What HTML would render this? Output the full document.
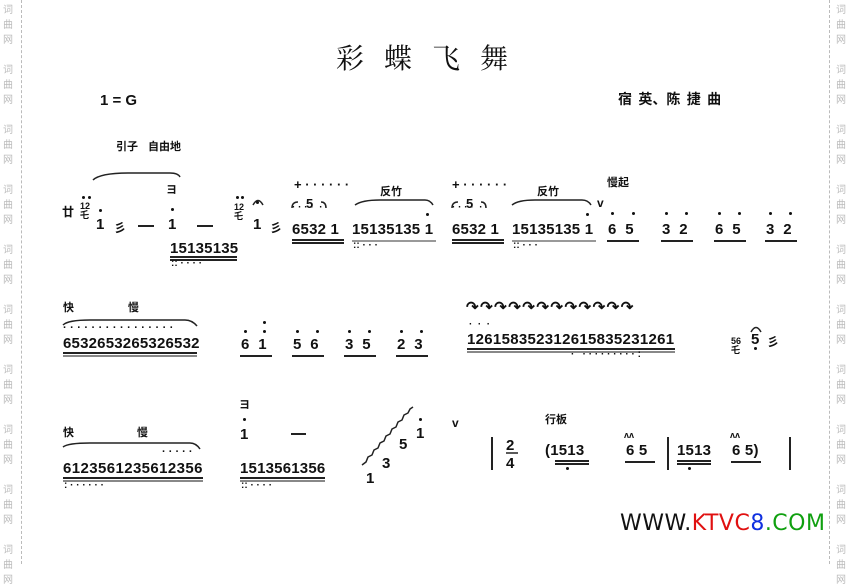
<!DOCTYPE html>
<html><head><meta charset="utf-8"><style>
body{margin:0;width:850px;height:564px;background:#fff;position:relative;overflow:hidden;font-family:"Liberation Sans","Noto Sans CJK SC",sans-serif;color:#111}
.a{position:absolute;white-space:pre;line-height:1}
.n{position:absolute;white-space:pre;line-height:1;font:bold 15px "Liberation Sans",sans-serif;letter-spacing:0.2px}
.c{position:absolute;white-space:pre;line-height:1;font-weight:bold;font-size:11px;font-family:"Noto Sans CJK SC",sans-serif}
.d{position:absolute;width:3px;height:3px;border-radius:50%;background:#111}
.u{position:absolute;height:1.5px;background:#222}
.w{position:absolute;font-size:10px;color:#bbb;line-height:15px;width:12px;font-family:"Noto Sans CJK SC",sans-serif}
.vl{position:absolute;top:0;height:564px;border-left:1px dashed #bbb}
</style></head><body>
<div class="vl" style="left:21px"></div><div class="vl" style="left:829px"></div>
<div class="w" style="left:3px;top:1px">词<br>曲<br>网<br><br>词<br>曲<br>网<br><br>词<br>曲<br>网<br><br>词<br>曲<br>网<br><br>词<br>曲<br>网<br><br>词<br>曲<br>网<br><br>词<br>曲<br>网<br><br>词<br>曲<br>网<br><br>词<br>曲<br>网<br><br>词<br>曲<br>网</div>
<div class="w" style="left:836px;top:1px">词<br>曲<br>网<br><br>词<br>曲<br>网<br><br>词<br>曲<br>网<br><br>词<br>曲<br>网<br><br>词<br>曲<br>网<br><br>词<br>曲<br>网<br><br>词<br>曲<br>网<br><br>词<br>曲<br>网<br><br>词<br>曲<br>网<br><br>词<br>曲<br>网</div>

<div class="a" style="left:336px;top:43px;font-size:28px;letter-spacing:20px;font-family:'Noto Serif CJK SC',serif">彩蝶飞舞</div>
<div class="a" style="left:100px;top:93px;font-size:15px;font-weight:bold">1 = G</div>
<div class="a" style="left:618px;top:92px;font-size:14px;font-weight:bold;font-family:'Noto Sans CJK SC',sans-serif">宿  英、陈  捷  曲</div>
<div class="c" style="left:116px;top:141px">引子    自由地</div>

<svg style="position:absolute;left:0;top:0" width="850" height="564" fill="none" stroke="#222" stroke-width="1.5">
<path d="M93 180 Q100 173 130 173 L170 173 Q178 173 180 177"/>
<path d="M355 205 Q362 200 380 200 L425 200 Q430 200 433 205"/>
<path d="M512 205 Q518 200 535 200 L582 200 Q588 200 591 205"/>
<path d="M292 208 Q292 202 298 202 M321 202 Q326 202 326 208"/>
<path d="M452 208 Q452 202 458 202 M481 202 Q486 202 486 208"/>
<path d="M63 325 Q68 320 90 320 L185 320 Q192 320 197 326"/>
<path d="M63 447 Q68 443 90 443 L190 443 Q196 443 200 449"/>
<path d="M362 465 l4 -3 l2 -5 l4 -2 l2 -5 l4 -2 l2 -5 l4 -2 l2 -5 l4 -2 l2 -5 l4 -2 l2 -5 l4 -2 l2 -5 l4 -2 l2 -4 l3 -2"/>
<path d="M253 205 Q258 196 263 205"/><path d="M751 332 Q756 323 761 332"/>
<path d="M492 437 L492 470 M668 437 L668 470 M790 437 L790 470" stroke-width="2"/>
<path d="M506 453 L518 453" stroke-width="1.5"/>
</svg>
<div class="a" style="left:62px;top:206px;font-size:12px;font-weight:bold">廿</div>
<div class="a" style="left:80px;top:202px;font-size:9px;font-weight:bold">12<br>乇</div>
<div class="d" style="left:82px;top:196px"></div><div class="d" style="left:88px;top:196px"></div>
<div class="d" style="left:99px;top:209px"></div><div class="n" style="left:96px;top:216px">1</div>
<div class="a" style="left:114px;top:222px;font-size:12px;font-weight:bold">彡</div>
<div class="u" style="left:138px;top:225px;width:16px;height:2px"></div>
<div class="a" style="left:166px;top:185px;font-size:11px;font-weight:bold">ヨ</div>
<div class="d" style="left:171px;top:208px"></div><div class="n" style="left:168px;top:216px">1</div>
<div class="u" style="left:197px;top:225px;width:16px;height:2px"></div>
<div class="a" style="left:234px;top:203px;font-size:9px;font-weight:bold">12<br>乇</div>
<div class="d" style="left:236px;top:196px"></div><div class="d" style="left:241px;top:196px"></div><div class="d" style="left:256px;top:201px"></div>
<div class="n" style="left:253px;top:216px">1</div>
<div class="a" style="left:270px;top:222px;font-size:12px;font-weight:bold">彡</div>
<div class="n" style="left:170px;top:240px">15135135</div>
<div class="u" style="left:170px;top:256px;width:67px"></div><div class="u" style="left:170px;top:259px;width:67px"></div>
<div class="a" style="left:171px;top:259px;font-size:10px;font-weight:bold">:: · · · ·</div>

<div class="a" style="left:294px;top:178px;font-size:13px;font-weight:bold">+ · · · · · ·</div>
<div class="n" style="left:306px;top:196px;font-size:13px">5</div>
<div class="a" style="left:292px;top:203px;font-size:10px;font-weight:bold">· · · ·  ·</div>
<div class="n" style="left:292px;top:221px">6532 1</div>
<div class="u" style="left:292px;top:239px;width:52px"></div><div class="u" style="left:292px;top:242px;width:52px"></div>
<div class="c" style="left:380px;top:186px">反竹</div>
<div class="n" style="left:352px;top:221px">15135135 1</div>
<div class="d" style="left:426px;top:213px"></div>
<div class="u" style="left:352px;top:240px;width:84px;background:#999"></div>
<div class="a" style="left:353px;top:241px;font-size:10px;font-weight:bold">:: · · ·</div>

<div class="a" style="left:452px;top:178px;font-size:13px;font-weight:bold">+ · · · · · ·</div>
<div class="n" style="left:466px;top:196px;font-size:13px">5</div>
<div class="a" style="left:452px;top:203px;font-size:10px;font-weight:bold">· · · ·  ·</div>
<div class="n" style="left:452px;top:221px">6532 1</div>
<div class="u" style="left:452px;top:239px;width:52px"></div><div class="u" style="left:452px;top:242px;width:52px"></div>
<div class="c" style="left:537px;top:186px">反竹</div>
<div class="n" style="left:512px;top:221px">15135135 1</div>
<div class="d" style="left:586px;top:213px"></div>
<div class="u" style="left:512px;top:240px;width:84px;background:#999"></div>
<div class="a" style="left:513px;top:241px;font-size:10px;font-weight:bold">:: · · ·</div>
<div class="a" style="left:597px;top:197px;font-size:12px;font-weight:bold">v</div>
<div class="c" style="left:607px;top:177px">慢起</div>

<div class="n" style="left:608px;top:221px">6  5</div><div class="d" style="left:611px;top:212px"></div><div class="d" style="left:632px;top:212px"></div><div class="u" style="left:607px;top:240px;width:32px"></div>
<div class="n" style="left:662px;top:221px">3  2</div><div class="d" style="left:665px;top:212px"></div><div class="d" style="left:685px;top:212px"></div><div class="u" style="left:661px;top:240px;width:32px"></div>
<div class="n" style="left:715px;top:221px">6  5</div><div class="d" style="left:718px;top:212px"></div><div class="d" style="left:738px;top:212px"></div><div class="u" style="left:714px;top:240px;width:32px"></div>
<div class="n" style="left:766px;top:221px">3  2</div><div class="d" style="left:769px;top:212px"></div><div class="d" style="left:789px;top:212px"></div><div class="u" style="left:765px;top:240px;width:32px"></div>

<div class="c" style="left:63px;top:302px">快</div><div class="c" style="left:128px;top:302px">慢</div>
<div class="a" style="left:63px;top:323px;font-size:11px;font-weight:bold;letter-spacing:0.2px">· · · · · · · · · · · · · · · ·</div>
<div class="n" style="left:63px;top:335px">6532653265326532</div>
<div class="u" style="left:63px;top:352px;width:134px"></div><div class="u" style="left:63px;top:355px;width:134px;background:#888"></div>
<div class="n" style="left:241px;top:336px">6  1</div><div class="d" style="left:244px;top:330px"></div><div class="d" style="left:263px;top:330px"></div><div class="d" style="left:263px;top:321px"></div><div class="u" style="left:240px;top:355px;width:32px"></div>
<div class="n" style="left:293px;top:336px">5  6</div><div class="d" style="left:296px;top:330px"></div><div class="d" style="left:316px;top:330px"></div><div class="u" style="left:292px;top:355px;width:32px"></div>
<div class="n" style="left:345px;top:336px">3  5</div><div class="d" style="left:348px;top:330px"></div><div class="d" style="left:368px;top:330px"></div><div class="u" style="left:344px;top:355px;width:32px"></div>
<div class="n" style="left:397px;top:336px">2  3</div><div class="d" style="left:400px;top:330px"></div><div class="d" style="left:420px;top:330px"></div><div class="u" style="left:396px;top:355px;width:32px"></div>
<div class="a" style="left:466px;top:300px;font-size:15px;font-weight:bold;letter-spacing:1.5px">↷↷↷↷↷↷↷↷↷↷↷↷</div>
<div class="a" style="left:469px;top:320px;font-size:10px;font-weight:bold">·  ·  ·</div>
<div class="n" style="left:467px;top:331px;letter-spacing:0.3px">126158352312615835231261</div>
<div class="u" style="left:467px;top:348px;width:208px"></div><div class="u" style="left:467px;top:351px;width:208px;background:#888"></div>
<div class="a" style="left:571px;top:350px;font-size:10px;font-weight:bold">·   · · · · · · · · · :</div>
<div class="a" style="left:731px;top:337px;font-size:9px;font-weight:bold">56<br>乇</div>
<div class="n" style="left:751px;top:331px">5</div><div class="d" style="left:754px;top:347px"></div>
<div class="a" style="left:767px;top:336px;font-size:12px;font-weight:bold">彡</div>

<div class="c" style="left:63px;top:427px">快</div><div class="c" style="left:137px;top:427px">慢</div>
<div class="a" style="left:162px;top:447px;font-size:11px;font-weight:bold">· · · · ·</div>
<div class="n" style="left:63px;top:460px;letter-spacing:0.4px">6123561235612356</div>
<div class="u" style="left:63px;top:477px;width:140px"></div><div class="u" style="left:63px;top:480px;width:140px;background:#888"></div>
<div class="a" style="left:64px;top:481px;font-size:10px;font-weight:bold">: · · · · · ·</div>
<div class="a" style="left:239px;top:400px;font-size:11px;font-weight:bold">ヨ</div>
<div class="d" style="left:243px;top:418px"></div><div class="n" style="left:240px;top:426px">1</div>
<div class="u" style="left:291px;top:433px;width:15px;height:2px"></div>
<div class="n" style="left:240px;top:460px">1513561356</div>
<div class="u" style="left:240px;top:477px;width:85px"></div><div class="u" style="left:240px;top:480px;width:85px;background:#888"></div>
<div class="a" style="left:241px;top:481px;font-size:10px;font-weight:bold">:: · · · ·</div>
<div class="n" style="left:366px;top:470px">1</div><div class="n" style="left:382px;top:455px">3</div>
<div class="n" style="left:399px;top:436px">5</div><div class="n" style="left:416px;top:425px">1</div><div class="d" style="left:419px;top:418px"></div>
<div class="a" style="left:452px;top:417px;font-size:12px;font-weight:bold">v</div>
<div class="c" style="left:545px;top:414px">行板</div>
<div class="n" style="left:506px;top:437px">2</div><div class="n" style="left:506px;top:455px">4</div>
<div class="n" style="left:545px;top:442px">(1513</div>
<div class="u" style="left:555px;top:460px;width:34px"></div><div class="u" style="left:555px;top:463px;width:34px"></div><div class="d" style="left:566px;top:467px"></div>
<div class="a" style="left:624px;top:431px;font-size:9px;font-weight:bold">ʌʌ</div>
<div class="n" style="left:626px;top:442px">6 5</div><div class="u" style="left:625px;top:461px;width:30px"></div>
<div class="n" style="left:677px;top:442px">1513</div>
<div class="u" style="left:677px;top:460px;width:34px"></div><div class="u" style="left:677px;top:463px;width:34px"></div><div class="d" style="left:688px;top:467px"></div>
<div class="a" style="left:730px;top:431px;font-size:9px;font-weight:bold">ʌʌ</div>
<div class="n" style="left:732px;top:442px">6 5)</div><div class="u" style="left:731px;top:461px;width:30px"></div>

<div class="a" style="left:620px;top:513px;font-size:22px;font-family:'DejaVu Sans',sans-serif;letter-spacing:0.5px"><span style="color:#111">WWW.</span><span style="color:#e01010">KTVC</span><span style="color:#1030e0">8</span><span style="color:#10a010">.COM</span></div>
</body></html>
